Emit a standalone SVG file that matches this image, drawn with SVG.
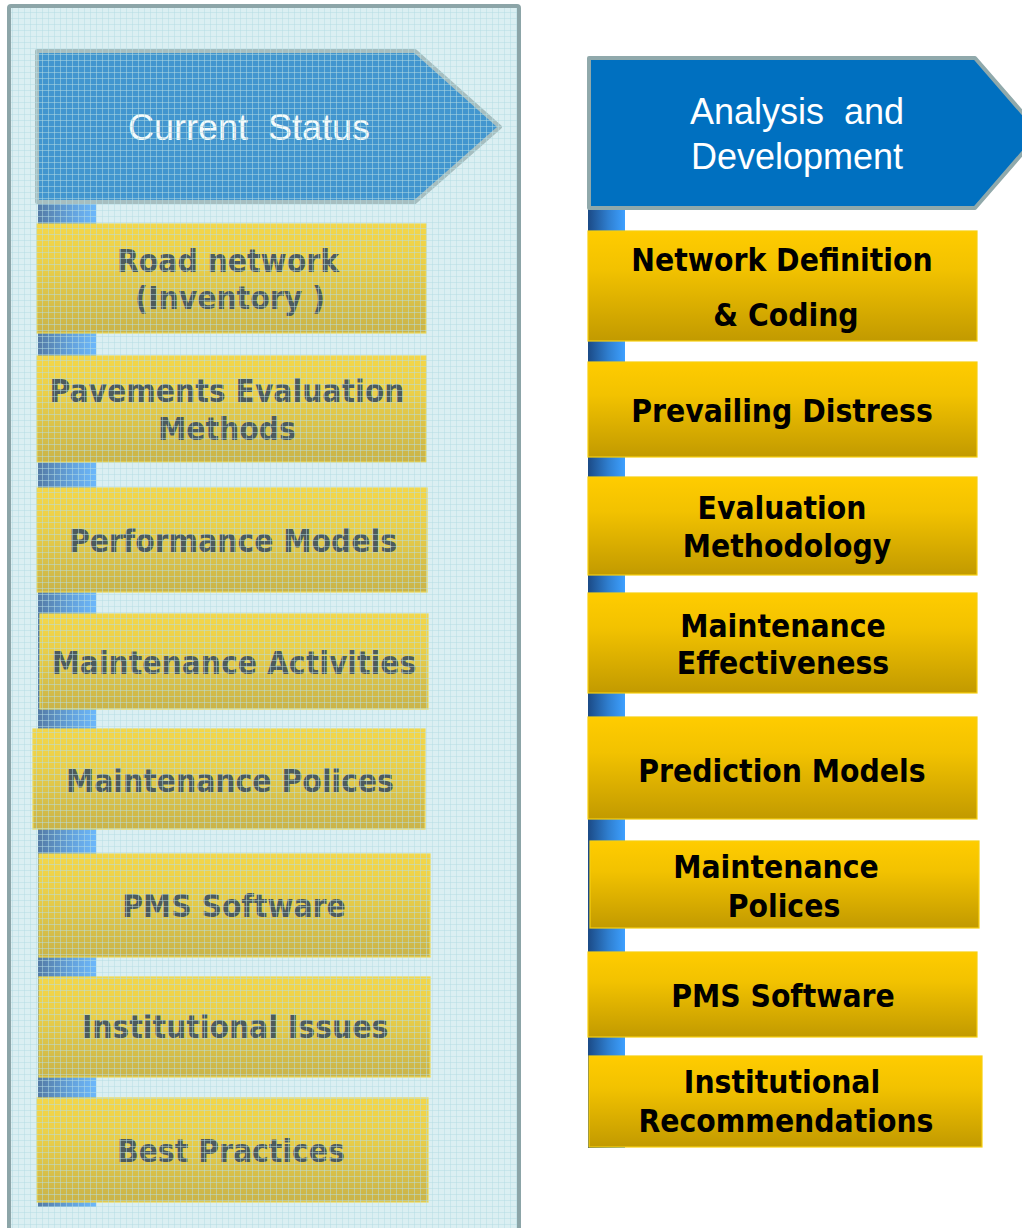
<svg xmlns="http://www.w3.org/2000/svg" width="1022" height="1228" viewBox="0 0 1022 1228">
<defs>
<linearGradient id="gold" x1="0" y1="0" x2="0" y2="1">
<stop offset="0" stop-color="#ffcc00"/>
<stop offset="0.35" stop-color="#f2c200"/>
<stop offset="1" stop-color="#c29a00"/>
</linearGradient>
<linearGradient id="bar" x1="0" y1="0" x2="1" y2="0">
<stop offset="0" stop-color="#1b4a86"/>
<stop offset="0.55" stop-color="#2f7fd0"/>
<stop offset="1" stop-color="#3da0ff"/>
</linearGradient>
<pattern id="grid" x="0" y="0" width="6" height="6" patternUnits="userSpaceOnUse">
<path d="M0 0.5 H6 M0.5 0 V6" stroke="#b6dde3" stroke-width="1" fill="none" opacity="0.5"/>
</pattern>
<clipPath id="panelclip"><rect x="11" y="8" width="506" height="1230"/></clipPath>
</defs>
<style>
.box{fill:url(#gold);stroke:#f7cf10;stroke-width:1.2}
.hdr{stroke:#90a9ab;stroke-width:4;stroke-linejoin:round}
.hdrtxt{font-family:"Liberation Sans",Arial,sans-serif;font-size:36px;fill:#ffffff;text-anchor:middle;white-space:pre}
.lbl{font-family:"DejaVu Sans Condensed","DejaVu Sans",Verdana,sans-serif;font-weight:bold;font-size:31.5px;fill:#000000;text-anchor:middle}
.llbl{fill:#111a1e}
</style>
<rect width="1022" height="1228" fill="#ffffff"/>

<!-- Left panel -->
<g id="left-panel">
<rect x="9" y="6" width="510" height="1300" fill="#dcf0f2"/>
<g id="connectors-left">
<rect x="38" y="200" width="58" height="1007" fill="url(#bar)"/>
</g>
<g id="current-status">
<path class="hdr" d="M37 51 H415 L500 127 L415 202 H37 Z" fill="#0070c0"/>
<text class="hdrtxt" x="249" y="140" xml:space="preserve">Current  Status</text>
</g>
<g id="road-network">
<rect class="box" x="37" y="224" width="389" height="109"/>
<text class="lbl llbl" x="228" y="272">Road network</text>
<text class="lbl llbl" x="230" y="309">(Inventory )</text>
</g>
<g id="pavements-evaluation">
<rect class="box" x="37" y="356" width="389" height="106"/>
<text class="lbl llbl" x="227" y="402">Pavements Evaluation</text>
<text class="lbl llbl" x="227" y="440">Methods</text>
</g>
<g id="performance-models">
<rect class="box" x="37" y="488" width="390" height="104"/>
<text class="lbl llbl" x="233" y="552">Performance Models</text>
</g>
<g id="maintenance-activities">
<rect class="box" x="40" y="614" width="388" height="95"/>
<text class="lbl llbl" x="234" y="674">Maintenance Activities</text>
</g>
<g id="maintenance-polices-left">
<rect class="box" x="33" y="729" width="392" height="100"/>
<text class="lbl llbl" x="230" y="792">Maintenance Polices</text>
</g>
<g id="pms-software-left">
<rect class="box" x="39" y="854" width="391" height="103"/>
<text class="lbl llbl" x="234" y="917">PMS Software</text>
</g>
<g id="institutional-issues">
<rect class="box" x="39" y="977" width="391" height="100"/>
<text class="lbl llbl" x="235" y="1038">Institutional Issues</text>
</g>
<g id="best-practices">
<rect class="box" x="37" y="1098" width="391" height="104"/>
<text class="lbl llbl" x="231" y="1162">Best Practices</text>
</g>
<g clip-path="url(#panelclip)">
<rect x="9" y="6" width="510" height="1300" fill="#dcf0f2" opacity="0.3"/>
<rect x="9" y="6" width="510" height="1300" fill="url(#grid)"/>
</g>
<rect x="9" y="6" width="510" height="1300" rx="2" fill="none" stroke="#8ca5a8" stroke-width="4"/>
</g>

<!-- Right column -->
<g id="connectors">
<rect x="588" y="206" width="37" height="942" fill="url(#bar)"/>
</g>
<g id="analysis-development">
<path class="hdr" d="M589 58 H975 L1040 133 L975 208 H589 Z" fill="#0070c0"/>
<text class="hdrtxt" x="797" y="124" xml:space="preserve">Analysis  and</text>
<text class="hdrtxt" x="797" y="169">Development</text>
</g>
<g id="network-definition">
<rect class="box" x="588" y="231" width="389" height="110"/>
<text class="lbl" x="782" y="271">Network Definition</text>
<text class="lbl" x="786" y="326">&amp; Coding</text>
</g>
<g id="prevailing-distress">
<rect class="box" x="588" y="362" width="389" height="95"/>
<text class="lbl" x="782" y="422">Prevailing Distress</text>
</g>
<g id="evaluation-methodology">
<rect class="box" x="588" y="477" width="389" height="98"/>
<text class="lbl" x="782" y="519">Evaluation</text>
<text class="lbl" x="787" y="557">Methodology</text>
</g>
<g id="maintenance-effectiveness">
<rect class="box" x="588" y="593" width="389" height="100"/>
<text class="lbl" x="783" y="637">Maintenance</text>
<text class="lbl" x="783" y="674">Effectiveness</text>
</g>
<g id="prediction-models">
<rect class="box" x="588" y="717" width="389" height="102"/>
<text class="lbl" x="782" y="782">Prediction Models</text>
</g>
<g id="maintenance-polices-right">
<rect class="box" x="590" y="841" width="389" height="87"/>
<text class="lbl" x="776" y="878">Maintenance</text>
<text class="lbl" x="784" y="917">Polices</text>
</g>
<g id="pms-software-right">
<rect class="box" x="588" y="952" width="389" height="85"/>
<text class="lbl" x="783" y="1007">PMS Software</text>
</g>
<g id="institutional-recommendations">
<rect class="box" x="589" y="1056" width="393" height="91"/>
<text class="lbl" x="782" y="1093">Institutional</text>
<text class="lbl" x="786" y="1132">Recommendations</text>
</g>
</svg>
